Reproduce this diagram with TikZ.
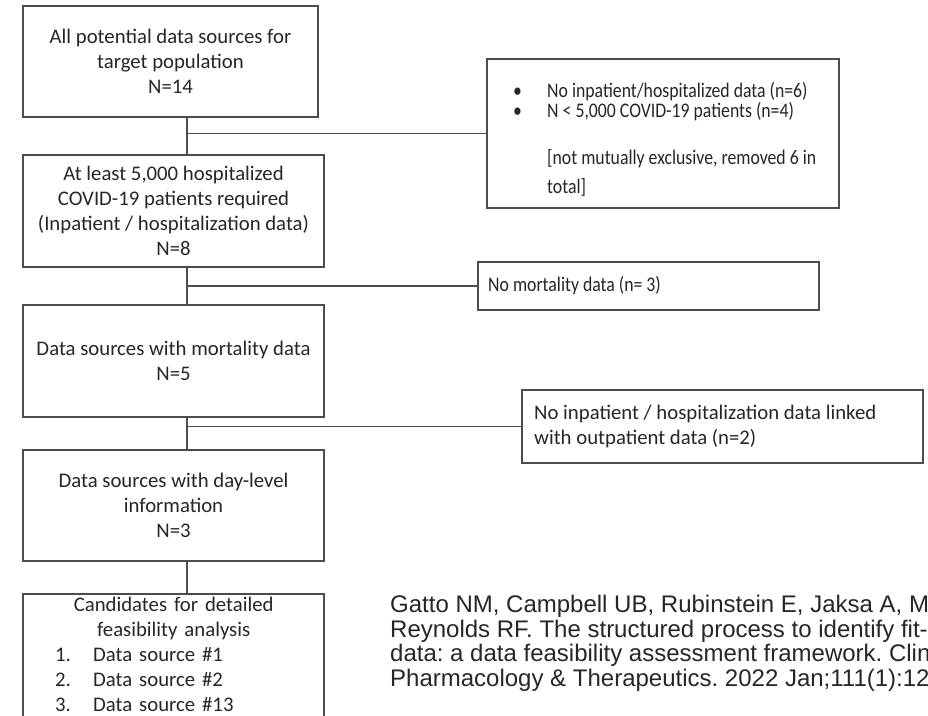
\documentclass[tikz,border=0pt]{standalone}
\usepackage{fontspec}
\setmainfont{Carlito}
\newfontfamily\narrowfont[FakeStretch=0.855]{Carlito}
\newfontfamily\citefont{Liberation Sans}
\usepackage{tikz}
\pgfdeclarelayer{background}
\pgfsetlayers{background,main}
\usetikzlibrary{positioning}
\newcommand{\boxfont}{\fontsize{20.75}{25}\selectfont}
\tikzset{
  stage/.style={draw=black!70,line width=1.7pt,fill=white,inner sep=0pt,align=center,font=\boxfont,text=black!85},
  excl/.style={draw=black!70,line width=1.7pt,fill=white,inner sep=0pt,anchor=west},
  exclText/.style={inner sep=0pt,align=left,anchor=west,font=\boxfont,text=black!85},
  link/.style={draw=black!70,line width=1.7pt}
}
\newcommand{\Stage}[5]% pos, name, width, height, text
{\node[stage,minimum width=#3,minimum height=#4] (#2) at (#1) {#5};
}
\newcommand{\Excl}[6]% left end, name, width, height, text options, text
{\node[excl,minimum width=#3,minimum height=#4] (#2) at (#1) {};
  \node[exclText,#5] (#2T) at (#2.west) {#6};
}
\newcommand{\Link}[2]% box above, box below
{ \begin{pgfonlayer}{background}
    \draw[link] (#1.south -| trunk) -- (#2.north -| trunk);
  \end{pgfonlayer}}
\newcommand{\Drop}[1]% side box
{ \begin{pgfonlayer}{background}
    \draw[link] (trunk |- #1.west) -- (#1.west);
  \end{pgfonlayer}}
\newcommand{\Bul}{\makebox[34pt][l]{\textbullet}}

\begin{document}
\begin{tikzpicture}[x=1pt,y=-1pt]
      \useasboundingbox (0,0) rectangle (928,715);
      \clip (0,0) rectangle (928,715);
      \coordinate (trunk) at (187,0);
      \Stage{170.5,61.5}{pool}{295}{111}{All potential data sources for\\target population\\N=14}
      \Stage{173.5,211}{hosp}{301}{112}{At least 5,000 hospitalized\\COVID-19 patients required\\(Inpatient / hospitalization data)\\N=8}
      \Stage{173.5,361}{mort}{301}{112}{Data sources with mortality data\\N=5}
      \Stage{173.5,505.5}{day}{301}{111}{Data sources with day-level\\information\\N=3}
      \node[stage,minimum width=301,minimum height=170,anchor=north] (cand) at (173.5,593) {};
      \node[font=\boxfont,text=black!85,text width=301,align=left,inner sep=0pt,anchor=north west] (candtext) at (23,597)
        {\makebox[301pt][c]{Candidates for detailed}\\
         \makebox[301pt][c]{feasibility analysis}\\
         \hspace*{32pt}\makebox[38pt][l]{1.}Data source \#1\\
         \hspace*{32pt}\makebox[38pt][l]{2.}Data source \#2\\
         \hspace*{32pt}\makebox[38pt][l]{3.}Data source \#13};
      \Excl{486,133.5}{exHosp}{352}{149}{xshift=27pt,yshift=-6pt,font=\narrowfont\fontsize{20.75}{17.5}\selectfont}
        {\Bul No inpatient/hospitalized data (n=6)\\
         \Bul N < 5,000 COVID-19 patients (n=4)\\[28pt]
         \hspace*{34pt}[not mutually exclusive, removed 6 in\\[9.5pt]
         \hspace*{34pt}total]}
      \Excl{477,286}{exMort}{341}{48}{xshift=11pt,font=\narrowfont\boxfont}{No mortality data (n= 3)}
      \Excl{521,426.5}{exLink}{401}{73}{xshift=13pt}{No inpatient / hospitalization data linked\\with outpatient data (n=2)}
      \Link{pool}{hosp}
      \Link{hosp}{mort}
      \Link{mort}{day}
      \Link{day}{cand}
      \Drop{exHosp}
      \Drop{exMort}
      \Drop{exLink}
      % reference, cut at the right edge
      \node[font=\citefont\fontsize{24}{24.5}\selectfont\frenchspacing,text=black!85,align=left,inner sep=0pt,anchor=north west] (cite) at (390,595)
        {Gatto NM, Campbell UB, Rubinstein E, Jaksa A, M\\
         Reynolds RF. The structured process to identify fit-\\
         data: a data feasibility assessment framework. Clin\\
         Pharmacology \& Therapeutics. 2022 Jan;111(1):12};
    \end{tikzpicture}
\end{document}
